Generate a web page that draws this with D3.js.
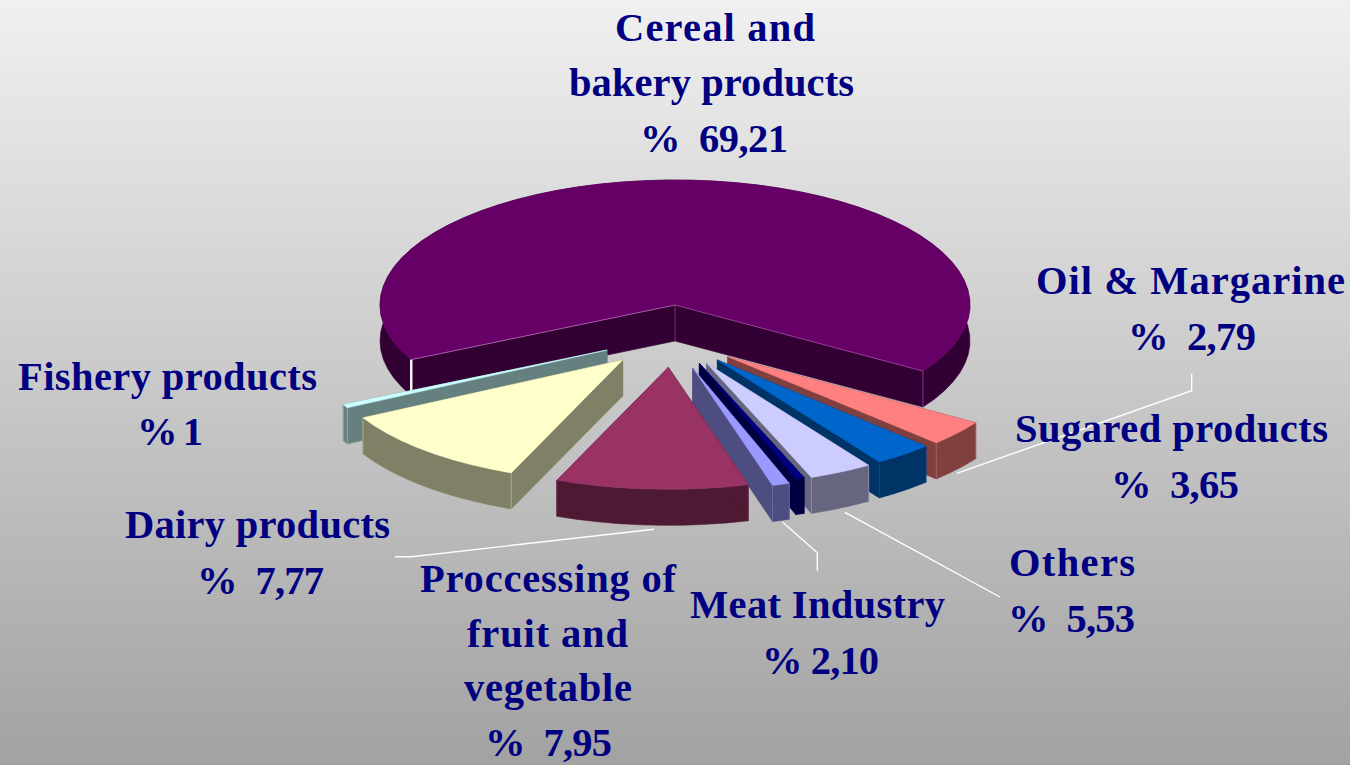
<!DOCTYPE html>
<html><head><meta charset="utf-8">
<script src="https://cdnjs.cloudflare.com/ajax/libs/d3/7.8.5/d3.min.js"></script>
<style>html,body{margin:0;padding:0;overflow:hidden}svg{display:block}
text{font-family:"Liberation Serif",serif;font-weight:700;fill:#000080;text-anchor:middle;white-space:pre}</style>
</head><body><svg id="c" width="1350" height="765"></svg>
<script>
// Data, clockwise from the end of the large slice
const categories = ["Oil & Margarine","Sugared products","Others","(unlabelled)","Meat Industry","Proccessing of fruit and vegetable","Dairy products","Fishery products","Cereal and bakery products"];
const shares = [2.79,3.65,5.53,0.35,2.10,7.95,7.77,1,69.21];
const topColors = ["#ff8080","#0066cc","#ccccff","#000080","#9999ff","#993366","#ffffcc","#ccffff","#660066"];
const sideColors = ["#804040","#003366","#666680","#000040","#4d4d80","#4d1933","#808066","#668080","#330033"];

// Layout of the 3-D view (the drawing's perspective warps the true angles)
const viewAngles = [32.8,45,56.7,69.2,70.9,74.3,112.2,151.7,153.4,392.8];
const explodeDist = [73.8,69.4,66.4,63.2,65.4,62.7,75.9,81.5,0];
const explodeDir = [44.4,52.4,61.5,67.4,74.3,96.1,133.6,146.5,0];
const cx=675, cy=305, rx=295, ryNear=122, ryFar=125, depth=36;

const labelBlocks = [
  {x:[715,711.5,714],w:[200,285,148],y0:40.5,lh:55.5,lines:["Cereal and","bakery products","%  69,21"]},
  {x:[1190.5,1192],w:[309,128],y0:294,lh:55.5,lines:["Oil & Margarine","%  2,79"]},
  {x:[1171.5,1175],w:[313,128],y0:442,lh:55.5,lines:["Sugared products","%  3,65"]},
  {x:[1072,1071.5],w:[126,127],y0:576,lh:55.5,lines:["Others","%  5,53"]},
  {x:[817.5,820.5],w:[255,117],y0:618,lh:55.5,lines:["Meat Industry","% 2,10"]},
  {x:[548,547.5,548,548.5],w:[256,161,168,127],y0:592,lh:54.7,lines:["Proccessing of","fruit and","vegetable","%  7,95"]},
  {x:[257.5,260.5],w:[265,127],y0:538,lh:55.5,lines:["Dairy products","%  7,77"]},
  {x:[167.5,170],w:[299,66],y0:390,lh:55,lines:["Fishery products","% 1"]}
];
const leaders = [
  [[1191.7,374],[1191.7,390.7],[956.7,473.3]],
  [[845,512.3],[1000,597]],
  [[782.7,522.3],[817.3,552.7],[817.3,570.7]],
  [[654,529.3],[411.7,556.7],[395,556.7]]
];

const svg = d3.select("#c");
const defs = svg.append("defs");
const g = defs.append("linearGradient").attr("id","bg").attr("x1",0).attr("x2",0).attr("y1",0).attr("y2",1);
g.append("stop").attr("offset",0).attr("stop-color","#f0f0f0");
g.append("stop").attr("offset",1).attr("stop-color","#a2a2a2");
svg.append("rect").attr("width",1350).attr("height",765).attr("fill","url(#bg)");

// Angles: share -> pie angle -> on-screen angle
const arcs = d3.pie().sort(null).value(d=>d)(shares);
const domain = arcs.map(a=>a.startAngle).concat(arcs[arcs.length-1].endAngle);
const toView = d3.scaleLinear().domain(domain).range(viewAngles);
const rad = d=>d*Math.PI/180;
const line = d3.line();

function rim(deg){
  const s=Math.sin(rad(deg));
  return [rx*Math.cos(rad(deg)), (s<0?ryFar:ryNear)*s];
}
// order back to front
const paintOrder = [8,7,6,0,1,2,3,4,5];
const root = svg.append("g");
paintOrder.forEach(i=>{
  const a=arcs[i];
  const a0=toView(a.startAngle), a1=toView(a.endAngle);
  const ax=cx+explodeDist[i]*Math.cos(rad(explodeDir[i]));
  const ay=cy+explodeDist[i]*Math.sin(rad(explodeDir[i]));
  // faceted rim, like the original's coarse 3-D rendering
  const n=Math.max(2,Math.ceil((a1-a0)/4.5));
  const pts=d3.range(n+1).map(k=>{const p=rim(a0+(a1-a0)*k/n);return [ax+p[0],ay+p[1]];});
  const down=p=>[p[0],p[1]+depth];
  const first=pts[0], last=pts[n], apex=[ax,ay];
  const s=root.append("g");
  const wall=(poly)=>s.append("path").attr("d",line(poly)+"Z").attr("fill",sideColors[i]).attr("stroke",sideColors[i]).attr("stroke-width",0.6);
  wall(pts.concat(pts.slice().reverse().map(down)));
  wall([apex,first,down(first),down(apex)]);
  wall([apex,last,down(last),down(apex)]);
  const seam=(p,q,c,w,o)=>s.append("path").attr("d",line([p,q])).attr("stroke",c).attr("stroke-width",w).attr("stroke-opacity",o).attr("fill","none");
  [first,last].forEach(p=>{ if(p[1]>ay+40) seam(p,down(p),topColors[i],1,0.35); });
  if(i===8){ seam(apex,down(apex),"#cc66cc",1,0.45); seam(pts[n],down(pts[n]),"#cc66cc",1,0.5);}
  s.append("path").attr("d",line([apex].concat(pts))+"Z").attr("fill",topColors[i]).attr("stroke",topColors[i]).attr("stroke-width",0.5);
  if(i===8){
    const L=pts[0];
    seam([L[0],L[1]],[L[0],L[1]+depth],"#f4f4f4",2.5,1);
    seam(apex,pts[n],"#b060b0",1,0.6);
    seam(apex,L,"#c080c0",1,0.7);
  }
});

// Leader lines
svg.append("g").selectAll("path").data(leaders).join("path")
  .attr("d",d=>line(d)).attr("fill","none").attr("stroke","#ffffff").attr("stroke-width",1.4);

// Labels
const fs=40.5;
const t=svg.append("g");
labelBlocks.forEach(b=>{
  t.selectAll(null).data(b.lines).join("text")
    .attr("x",(d,i)=>b.x[i]).attr("y",(d,i)=>b.y0+i*b.lh)
    .attr("font-size",fs).attr("textLength",(d,i)=>b.w[i]).attr("lengthAdjust","spacing").text(d=>d);
});
</script></body></html>
